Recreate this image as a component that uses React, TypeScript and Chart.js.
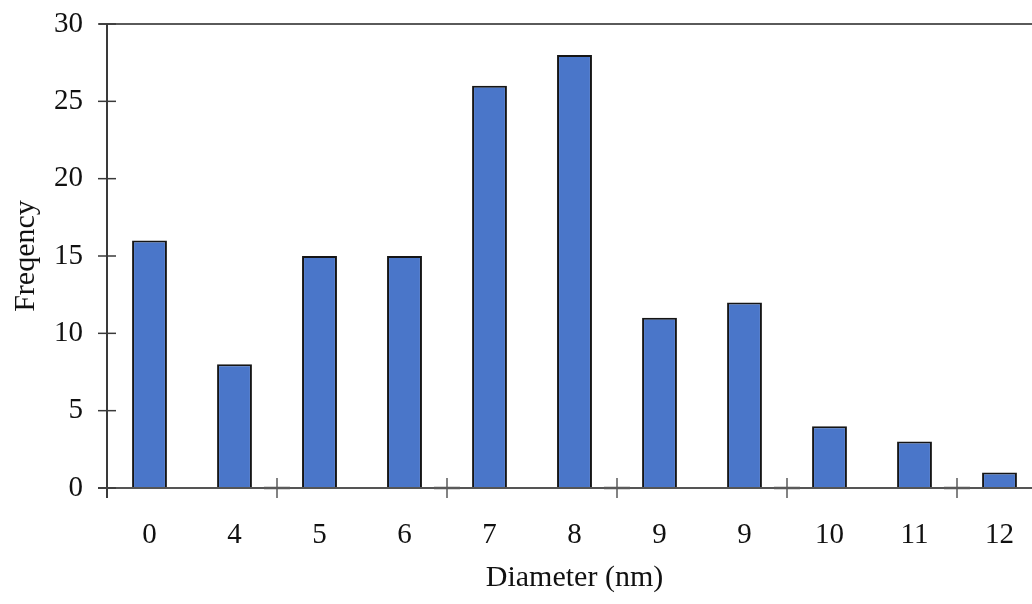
import React, { useEffect, useRef } from "react";
import { Chart, registerables } from "chart.js";

Chart.register(...registerables);

const categories: string[] = ["0", "4", "5", "6", "7", "8", "9", "9", "10", "11", "12"];
const frequency: number[] = [16, 8, 15, 15, 26, 28, 11, 12, 4, 3, 1];
const yTickValues: number[] = [0, 5, 10, 15, 20, 25, 30];
const xTitle = "Diameter (nm)";
const yTitle = "Freqency";

const FONT = "'Liberation Serif', 'Times New Roman', serif";

const axesPlugin = {
  id: "axesPlugin",
  afterDraw(chart: any) {
    const { ctx, chartArea, scales } = chart;
    const x = scales.x;
    const y = scales.y;
    const left = chartArea.left;
    const bottom = chartArea.bottom;
    const top = chartArea.top;
    ctx.save();
    ctx.lineCap = "butt";
    // top border
    ctx.strokeStyle = "#5a5a5a";
    ctx.lineWidth = 2;
    ctx.beginPath();
    ctx.moveTo(left - 8, top);
    ctx.lineTo(chart.width, top);
    ctx.stroke();
    // y axis
    ctx.strokeStyle = "#3a3a3a";
    ctx.lineWidth = 2;
    ctx.beginPath();
    ctx.moveTo(left, top);
    ctx.lineTo(left, bottom + 10);
    ctx.stroke();
    // x axis
    ctx.strokeStyle = "#555";
    ctx.beginPath();
    ctx.moveTo(left - 9, bottom);
    ctx.lineTo(chart.width, bottom);
    ctx.stroke();
    // y ticks (cross)
    ctx.strokeStyle = "#3a3a3a";
    ctx.lineWidth = 1.5;
    for (const v of yTickValues) {
      const py = y.getPixelForValue(v);
      ctx.beginPath();
      ctx.moveTo(left - 9, py);
      ctx.lineTo(left + 9, py);
      ctx.stroke();
    }
    // x ticks at every other category boundary (cross)
    ctx.strokeStyle = "#5a5a5a";
    const n = categories.length;
    for (let i = 2; i < n; i += 2) {
      const px = (x.getPixelForValue(i - 1) + x.getPixelForValue(i)) / 2;
      ctx.lineWidth = 1.5;
      ctx.beginPath();
      ctx.moveTo(px, bottom - 10);
      ctx.lineTo(px, bottom + 10);
      ctx.stroke();
      ctx.lineWidth = 2.5;
      ctx.beginPath();
      ctx.moveTo(px - 13, bottom);
      ctx.lineTo(px + 13, bottom);
      ctx.stroke();
    }
    ctx.restore();
  },
};

export default function App() {
  const ref = useRef<HTMLCanvasElement | null>(null);
  useEffect(() => {
    if (!ref.current) return;
    const chart = new Chart(ref.current, {
      type: "bar",
      data: {
        labels: categories,
        datasets: [
          {
            data: frequency,
            backgroundColor: "#4a76c9",
            borderColor: "#151515",
            borderWidth: 2,
            barPercentage: 0.82,
            categoryPercentage: 0.5,
          },
        ],
      },
      options: {
        animation: false,
        responsive: false,
        devicePixelRatio: 1,
        layout: { padding: { top: 24, right: 8, left: 0, bottom: 0 } },
        plugins: { legend: { display: false }, tooltip: { enabled: false } },
        scales: {
          x: {
            type: "category",
            offset: true,
            grid: { display: false },
            border: { display: false },
            ticks: {
              color: "#111",
              font: { family: FONT, size: 29 },
              padding: 22,
              maxRotation: 0,
              autoSkip: false,
            },
            title: {
              display: true,
              text: xTitle,
              color: "#111",
              font: { family: FONT, size: 30 },
              padding: { top: 0, bottom: 8 },
            },
            afterFit(scale: any) {
              scale.height = 116;
              scale.paddingLeft = 0;
              scale.paddingRight = 0;
            },
          },
          y: {
            min: 0,
            max: 30,
            grid: { display: false },
            border: { display: false },
            ticks: {
              stepSize: 5,
              color: "#111",
              font: { family: FONT, size: 29 },
              padding: 16,
            },
            title: {
              display: true,
              text: yTitle,
              color: "#111",
              font: { family: FONT, size: 30 },
              padding: { top: 8, bottom: 0 },
            },
            afterFit(scale: any) {
              scale.width = 107;
              scale.paddingTop = 0;
              scale.paddingBottom = 0;
            },
          },
        },
      },
      plugins: [axesPlugin],
    });
    return () => chart.destroy();
  }, []);
  return (
    <div
      style={{
        position: "fixed",
        left: 0,
        top: 0,
        width: 1032,
        height: 604,
        overflow: "hidden",
        background: "#fff",
      }}
    >
      <canvas ref={ref} width={1050} height={604} style={{ display: "block" }} />
    </div>
  );
}
